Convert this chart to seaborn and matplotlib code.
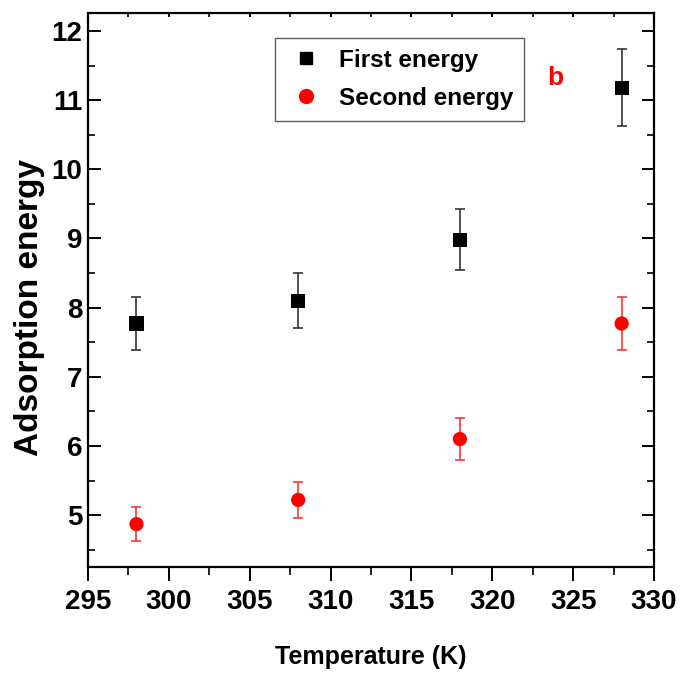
import matplotlib
matplotlib.use("Agg")
import matplotlib.pyplot as plt
import seaborn as sns
import pandas as pd
from matplotlib.ticker import MultipleLocator
from matplotlib.lines import Line2D

temps = [298, 308, 318, 328]
first_energy = [7.77, 8.10, 8.98, 11.18]
first_err = [0.38, 0.40, 0.44, 0.56]
second_energy = [4.87, 5.22, 6.10, 7.77]
second_err = [0.25, 0.26, 0.30, 0.38]
series_names = ["First energy", "Second energy"]

sns.set_style("white")
plt.rcParams["font.family"] = ["Liberation Sans", "DejaVu Sans"]
plt.rcParams["font.weight"] = "bold"
plt.rcParams["text.color"] = "black"
plt.rcParams["axes.labelcolor"] = "black"
plt.rcParams["xtick.color"] = "black"
plt.rcParams["ytick.color"] = "black"

df = pd.DataFrame({
    "T": temps * 2,
    "E": first_energy + second_energy,
    "err": first_err + second_err,
    "series": [series_names[0]] * 4 + [series_names[1]] * 4,
})

fig = plt.figure(figsize=(6.83, 6.78), dpi=100)
ax = fig.add_axes([0.1288, 0.1637, 0.8287, 0.8171])

colors = {"First energy": "black", "Second energy": "red"}
ecolors = {"First energy": "#333333", "Second energy": "#ff3333"}
for name in series_names:
    sub = df[df["series"] == name]
    ax.errorbar(sub["T"], sub["E"], yerr=sub["err"], fmt="none",
                ecolor=ecolors[name], elinewidth=1.2, capsize=3.5, capthick=1.2, zorder=2)

sns.scatterplot(data=df, x="T", y="E", hue="series", style="series",
                markers={"First energy": "s", "Second energy": "o"},
                palette=colors, s=105, edgecolor="none", ax=ax, zorder=3, legend=False)

handles = [Line2D([], [], ls="none", marker="s", color="black", markersize=9),
           Line2D([], [], ls="none", marker="o", color="red", markersize=10)]
leg = ax.legend(handles, series_names, loc="upper left", bbox_to_anchor=(0.330, 0.955),
                frameon=True, fancybox=False, edgecolor="#333333", borderpad=0.45,
                handletextpad=0.5, labelspacing=0.62, handlelength=1.7,
                prop={"weight": "bold", "size": 17.5}, borderaxespad=0)
leg.get_frame().set_linewidth(1.0)

fig.text(555 / 683, 1 - 78 / 678, "b", color="red", fontsize=19, fontweight="bold",
         ha="center", va="center")

ax.set_xlim(295, 330)
ax.set_ylim(4.25, 12.26)
ax.xaxis.set_major_locator(MultipleLocator(5))
ax.xaxis.set_minor_locator(MultipleLocator(2.5))
ax.yaxis.set_major_locator(MultipleLocator(1))
ax.yaxis.set_minor_locator(MultipleLocator(0.5))

for s in ax.spines.values():
    s.set_linewidth(1.6)
    s.set_color("black")

ax.tick_params(axis="x", which="major", direction="out", length=10, width=1.4,
               bottom=True, labelsize=20, pad=6)
ax.tick_params(axis="x", which="minor", direction="out", length=6, width=1.2, bottom=True)
ax.tick_params(axis="y", which="major", direction="in", length=9, width=1.4,
               left=True, right=True, labelsize=20, pad=4)
ax.tick_params(axis="y", which="minor", direction="in", length=5, width=1.2, left=True, right=True)
ax.tick_params(axis="x", which="both", top=True)
for t in ax.xaxis.get_major_ticks() + ax.xaxis.get_minor_ticks():
    t.tick2line.set_markersize(3)
    t.tick2line.set_marker(matplotlib.lines.TICKDOWN)

ax.set_xlabel("Temperature (K)", fontsize=18, fontweight="bold")
ax.set_ylabel("Adsorption energy", fontsize=24, fontweight="bold")
ax.xaxis.set_label_coords(0.5, (567 - 657) / 554)
ax.xaxis.label.set_va("center")
ax.yaxis.set_label_coords((30 - 88) / 566, (567 - 307) / 554)
ax.yaxis.label.set_va("center")

fig.savefig("out.png", dpi=100)
